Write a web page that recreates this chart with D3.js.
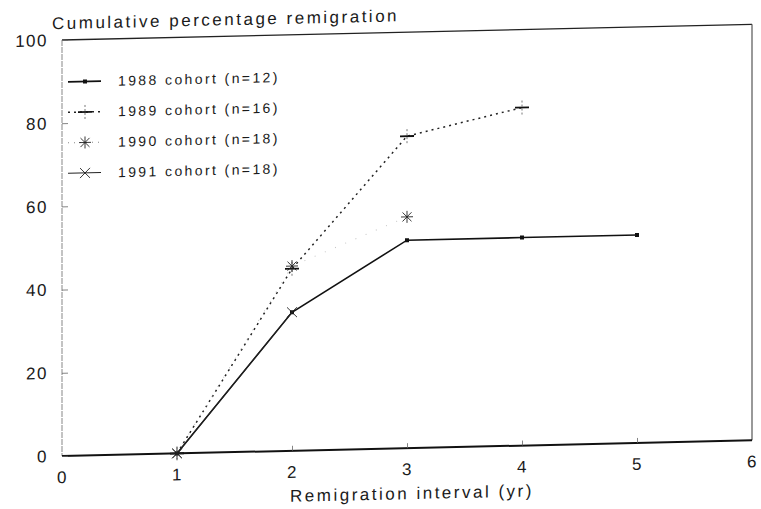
<!DOCTYPE html>
<html>
<head>
<meta charset="utf-8">
<script src="https://cdn.jsdelivr.net/npm/d3@7"></script>
<style>
  body { margin: 0; background: #fff; }
  text { font-family: "Liberation Sans", Arial, sans-serif; fill: #1a1a1a; }
</style>
</head>
<body>
<div id="chart"></div>
<script>
// Data
var years1988 = [1, 2, 3, 4, 5];
var cohort1988 = [0, 33.3, 50, 50, 50];
var years1989 = [1, 2, 3, 4];
var cohort1989 = [0, 43.75, 75, 81.25];
var years1990 = [1, 2, 3];
var cohort1990 = [0, 44.4, 55.6];
var years1991 = [1, 2];
var cohort1991 = [0, 33.3];
var legendLabels = ["1988 cohort (n=12)", "1989 cohort (n=16)", "1990 cohort (n=18)", "1991 cohort (n=18)"];
var xTicks = [0, 1, 2, 3, 4, 5, 6];
var yTicks = [0, 20, 40, 60, 80, 100];

var W = 761, H = 509;
var M = {left: 62, right: 752, top: 40, bottom: 456};

var svg = d3.select("#chart").append("svg")
    .attr("width", W)
    .attr("height", H);

// the scan is a little skewed, so the whole chart is too
var g = svg.append("g")
    .attr("transform", "translate(62,456) skewY(-1.3) translate(-62,-456)");

var x = d3.scaleLinear().domain([0, 6]).range([M.left, M.right]);
var y = d3.scaleLinear().domain([0, 100]).range([M.bottom, M.top]);

// frame
g.append("line").attr("x1", M.left).attr("x2", M.right).attr("y1", M.top).attr("y2", M.top)
    .attr("stroke", "#222").attr("stroke-width", 1.4);
g.append("line").attr("x1", M.right).attr("x2", M.right).attr("y1", M.top).attr("y2", M.bottom)
    .attr("stroke", "#555").attr("stroke-width", 1.2);
g.append("line").attr("x1", M.left).attr("x2", M.left).attr("y1", M.top).attr("y2", M.bottom)
    .attr("stroke", "#888").attr("stroke-width", 1).attr("stroke-dasharray", "6,1");
g.append("line").attr("x1", M.left).attr("x2", M.right).attr("y1", M.bottom).attr("y2", M.bottom)
    .attr("stroke", "#111").attr("stroke-width", 2);

// axes, ticks pointing inwards
var xAxis = g.append("g")
    .attr("transform", "translate(0," + M.bottom + ")")
    .call(d3.axisBottom(x).tickValues(xTicks).tickFormat(d3.format("d")).tickSize(-5).tickPadding(15));
var yAxis = g.append("g")
    .attr("transform", "translate(" + M.left + ",0)")
    .call(d3.axisLeft(y).tickValues(yTicks).tickFormat(d3.format("d")).tickSize(-6).tickPadding(14));
[xAxis, yAxis].forEach(function(a) {
  a.select(".domain").remove();
  a.selectAll(".tick line").attr("stroke", "#666").attr("stroke-width", 0.8);
  a.selectAll(".tick text")
      .style("font-family", "'Liberation Sans', Arial, sans-serif")
      .style("font-size", "17px")
      .style("letter-spacing", "1.5px")
      .attr("fill", "#1a1a1a");
});
xAxis.selectAll(".tick").filter(function(d) { return d == 0 || d == 1 || d == 6; }).select("line").remove();

// titles
g.append("text")
    .attr("x", 52).attr("y", 29)
    .style("font-size", "17px")
    .style("letter-spacing", "2.5px")
    .text("Cumulative percentage remigration");
g.append("text")
    .attr("x", 412).attr("y", 507)
    .attr("text-anchor", "middle")
    .style("font-size", "17px")
    .style("letter-spacing", "2.5px")
    .text("Remigration interval (yr)");

// markers
function drawMarker(sel, kind, cx, cy) {
  var m = sel.append("g").attr("transform", "translate(" + cx + "," + cy + ")");
  if (kind == "dot") {
    m.append("rect").attr("x", -2).attr("y", -2).attr("width", 4).attr("height", 4).attr("fill", "#111");
  } else if (kind == "plus") {
    m.append("path").attr("d", "M-7,0H7").attr("stroke", "#111").attr("stroke-width", 1.8);
    m.append("path").attr("d", "M0,-7V7").attr("stroke", "#555").attr("stroke-width", 0.8).attr("stroke-dasharray", "2,2");
  } else if (kind == "star") {
    m.append("path").attr("d", "M-6,0H6M0,-6V6M-4.5,-4.5L4.5,4.5M-4.5,4.5L4.5,-4.5")
        .attr("stroke", "#222").attr("stroke-width", 0.9);
  } else if (kind == "cross") {
    m.append("path").attr("d", "M-5,-5L5,5M-5,5L5,-5")
        .attr("stroke", "#222").attr("stroke-width", 0.9);
  }
}

var series = [
  {xs: years1988, ys: cohort1988, width: 1.6, dash: null, color: "#111", marker: "dot"},
  {xs: years1989, ys: cohort1989, width: 1.5, dash: "2,4", color: "#222", marker: "plus"},
  {xs: years1990, ys: cohort1990, width: 1, dash: "1,10", color: "#c4c4c4", marker: "star"},
  {xs: years1991, ys: cohort1991, width: 1, dash: null, color: "#222", marker: "cross"}
];

var line = d3.line()
    .x(function(d) { return x(d[0]); })
    .y(function(d) { return y(d[1]); });

series.forEach(function(s) {
  var pts = d3.zip(s.xs, s.ys);
  g.append("path")
      .datum(pts)
      .attr("d", line)
      .attr("fill", "none")
      .attr("stroke", s.color)
      .attr("stroke-width", s.width)
      .attr("stroke-dasharray", s.dash);
  pts.forEach(function(p) { drawMarker(g, s.marker, x(p[0]), y(p[1])); });
});

// legend
var legend = g.append("g");
series.forEach(function(s, i) {
  var ly = 82 + i * 30.5;
  legend.append("line")
      .attr("x1", 68).attr("x2", 101).attr("y1", ly).attr("y2", ly)
      .attr("stroke", s.color == "#c4c4c4" ? "#888" : s.color)
      .attr("stroke-width", s.width)
      .attr("stroke-dasharray", s.dash == "1,10" ? "1,5" : s.dash);
  drawMarker(legend, s.marker, 85, ly);
  legend.append("text")
      .attr("x", 118).attr("y", ly + 5)
      .style("font-size", "14px")
      .style("letter-spacing", "2.4px")
      .text(legendLabels[i]);
});
</script>
</body>
</html>
